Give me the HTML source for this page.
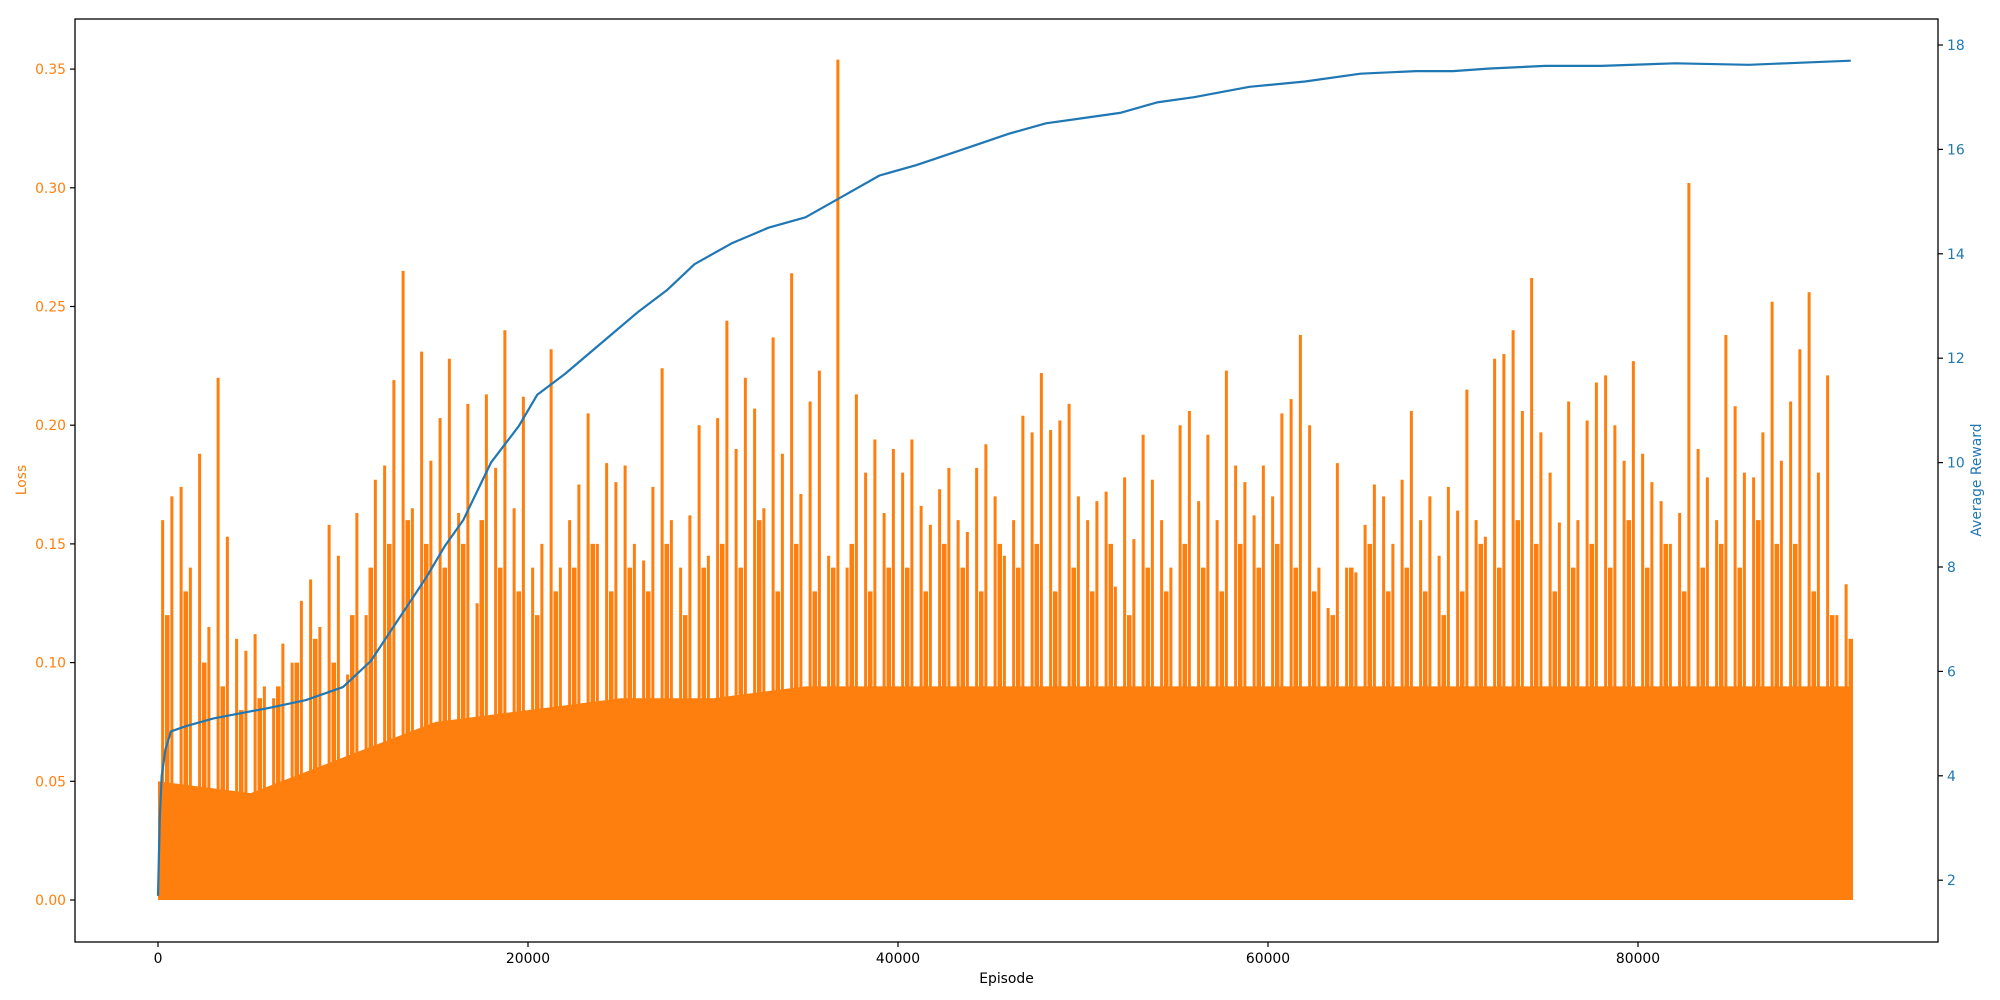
<!DOCTYPE html>
<html><head><meta charset="utf-8"><style>
html,body{margin:0;padding:0;background:#fff;}
svg{display:block;font-family:"DejaVu Sans","Liberation Sans",sans-serif;}
</style></head><body>
<svg id="chart" width="2000" height="1000">
</svg>
<script>
const xTicks=[0,20000,40000,60000,80000];
const lossTicks=[0,0.05,0.10,0.15,0.20,0.25,0.30,0.35];
const lossTickLabels=["0.00","0.05","0.10","0.15","0.20","0.25","0.30","0.35"];
const rewardTicks=[2,4,6,8,10,12,14,16,18];
const lossBinSize=500;
const lossPeaks=[0.16,0.17,0.174,0.14,0.188,0.115,0.22,0.153,0.11,0.105,0.112,0.09,0.085,0.108,0.1,0.126,0.135,0.115,0.158,0.145,
0.095,0.163,0.12,0.177,0.183,0.219,0.265,0.165,0.231,0.185,0.203,0.228,0.163,0.209,0.125,0.213,0.182,0.24,0.165,0.212,
0.14,0.15,0.232,0.14,0.16,0.175,0.205,0.15,0.184,0.176,0.183,0.15,0.143,0.174,0.224,0.16,0.14,0.162,0.2,0.145,
0.203,0.244,0.19,0.22,0.207,0.165,0.237,0.188,0.264,0.171,0.21,0.223,0.145,0.354,0.14,0.213,0.18,0.194,0.163,0.19,
0.18,0.194,0.166,0.158,0.173,0.182,0.16,0.155,0.182,0.192,0.17,0.145,0.16,0.204,0.197,0.222,0.198,0.202,0.209,0.17,
0.16,0.168,0.172,0.132,0.178,0.152,0.196,0.177,0.16,0.14,0.2,0.206,0.168,0.196,0.16,0.223,0.183,0.176,0.162,0.183,
0.17,0.205,0.211,0.238,0.2,0.14,0.123,0.184,0.14,0.138,0.158,0.175,0.17,0.15,0.177,0.206,0.16,0.17,0.145,0.174,
0.164,0.215,0.16,0.153,0.228,0.23,0.24,0.206,0.262,0.197,0.18,0.159,0.21,0.16,0.202,0.218,0.221,0.2,0.185,0.227,
0.188,0.176,0.168,0.15,0.163,0.302,0.19,0.178,0.16,0.238,0.208,0.18,0.178,0.197,0.252,0.185,0.21,0.232,0.256,0.18,0.221,0.12,0.133];
const midBinSize=1000;
const lossMid=[0.12,0.13,0.1,0.09,0.08,0.085,0.09,0.1,0.11,0.1,
0.12,0.14,0.15,0.16,0.15,0.14,0.15,0.16,0.14,0.13,
0.12,0.13,0.14,0.15,0.13,0.14,0.13,0.15,0.12,0.14,
0.15,0.14,0.16,0.13,0.15,0.13,0.14,0.15,0.13,0.14,
0.14,0.13,0.15,0.14,0.13,0.15,0.14,0.15,0.13,0.14,
0.13,0.15,0.12,0.14,0.13,0.15,0.14,0.13,0.15,0.14,
0.15,0.14,0.13,0.12,0.14,0.15,0.13,0.14,0.13,0.12,
0.13,0.15,0.14,0.16,0.15,0.13,0.14,0.15,0.14,0.16,
0.14,0.15,0.13,0.14,0.15,0.14,0.16,0.15,0.15,0.13,0.12,0.11];
const denseEpisodes=[0,5000,10000,15000,20000,25000,30000,35000,40000,45000,50000,55000,60000,65000,70000,75000,80000,85000,90000,91500];
const denseLoss=[0.05,0.045,0.06,0.075,0.08,0.085,0.085,0.09,0.09,0.09,0.09,0.09,0.09,0.09,0.09,0.09,0.09,0.09,0.09,0.09];
const rewardEpisodes=[0,100,200,400,700,1500,3000,6000,8000,10000,11500,13000,14500,15500,16500,18000,19500,20500,22000,24000,26000,27500,29000,31000,33000,35000,37000,39000,41000,43500,46000,48000,50000,52000,54000,56000,59000,62000,65000,68000,70000,72000,75000,78000,82000,86000,88000,91500];
const rewardValues=[1.7,3.2,4.0,4.5,4.85,4.95,5.1,5.3,5.45,5.7,6.2,7.0,7.8,8.4,8.9,10.0,10.7,11.3,11.7,12.3,12.9,13.3,13.8,14.2,14.5,14.7,15.1,15.5,15.7,16.0,16.3,16.5,16.6,16.7,16.9,17.0,17.2,17.3,17.45,17.5,17.5,17.55,17.6,17.6,17.65,17.62,17.65,17.7];

const NS="http://www.w3.org/2000/svg";
const svg=document.getElementById('chart');
const L=75,R=1938,T=19,B=942;
const xS=v=>158+v*0.0185;
const yL=v=>900-v*2374;
const yR=v=>45-(v-18)*52.2;
function mk(tag,attrs,parent){const e=document.createElementNS(NS,tag);for(const k in attrs)e.setAttribute(k,attrs[k]);(parent||svg).appendChild(e);return e;}
const ORANGE="#ff7f0e",BLUE="#1f77b4";

let d="M"+xS(denseEpisodes[0])+","+yL(0);
denseEpisodes.forEach((e,i)=>{d+=" L"+xS(e)+","+yL(denseLoss[i]);});
d+=" L"+xS(denseEpisodes[denseEpisodes.length-1])+","+yL(0)+" Z";
const dense=mk('path',{d:d,fill:ORANGE});



const spikes=mk('g',{});


lossMid.forEach((p,i)=>{
  const ep=Math.min(i*midBinSize+midBinSize/2,91500);
  const x=xS(ep);
  const ln=mk('line',{x1:x,x2:x,y1:yL(0),y2:yL(p),stroke:ORANGE,'stroke-width':4.5},spikes);
  
  
});
lossPeaks.forEach((p,i)=>{
  const ep=Math.min(i*lossBinSize+lossBinSize/2,91500);
  const x=xS(ep);
  const ln=mk('line',{x1:x,x2:x,y1:yL(0),y2:yL(p),stroke:ORANGE,'stroke-width':3},spikes);
  
  
});

let rd="";
rewardEpisodes.forEach((e,i)=>{rd+=(i?" L":"M")+xS(e).toFixed(1)+","+yR(rewardValues[i]).toFixed(1);});
const rl=mk('path',{d:rd,fill:'none',stroke:BLUE,'stroke-width':2.2,'stroke-linejoin':'round'});



const fr=mk('rect',{x:L,y:T,width:R-L,height:B-T,fill:'none',stroke:'#000','stroke-width':1.3});



xTicks.forEach(v=>{
  const x=xS(v);
  const t=mk('line',{x1:x,x2:x,y1:B,y2:B+5,stroke:'#000','stroke-width':1.2});
  
  
  const tx=mk('text',{x:x,y:B+21,'text-anchor':'middle','font-size':13.9,fill:'#000'});
  tx.textContent=String(v);
  
  
});
lossTicks.forEach((v,i)=>{
  const y=yL(v);
  const t=mk('line',{x1:L-5,x2:L,y1:y,y2:y,stroke:'#000','stroke-width':1.2});
  
  
  const tx=mk('text',{x:L-9,y:y+5,'text-anchor':'end','font-size':13.9,fill:ORANGE});
  tx.textContent=lossTickLabels[i];
  
  
});
rewardTicks.forEach(v=>{
  const y=yR(v);
  const t=mk('line',{x1:R,x2:R+5,y1:y,y2:y,stroke:'#000','stroke-width':1.2});
  
  
  const tx=mk('text',{x:R+9,y:y+5,'text-anchor':'start','font-size':13.9,fill:BLUE});
  tx.textContent=String(v);
  
  
});
const xt=mk('text',{x:(L+R)/2,y:983,'text-anchor':'middle','font-size':13.9,fill:'#000'});
xt.textContent="Episode";


const lt=mk('text',{x:0,y:0,'text-anchor':'middle','font-size':13.9,fill:ORANGE,transform:'translate(26,480) rotate(-90)'});
lt.textContent="Loss";


const rt=mk('text',{x:0,y:0,'text-anchor':'middle','font-size':13.9,fill:BLUE,transform:'translate(1981,480) rotate(-90)'});
rt.textContent="Average Reward";


</script>
</body></html>
